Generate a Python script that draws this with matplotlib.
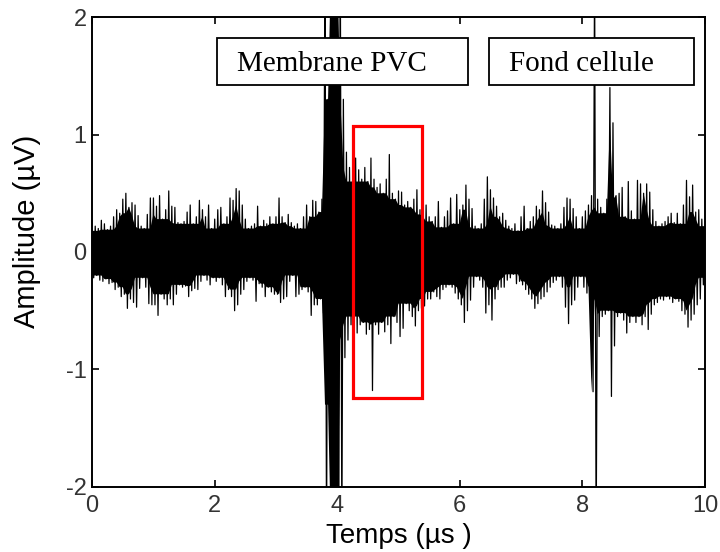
import matplotlib
matplotlib.use('Agg')
import matplotlib.pyplot as plt
from matplotlib.patches import Rectangle
import numpy as np

# Pas entre deux crêtes lues sur le signal (µs)
pas = 0.05

# Crêtes positives, une valeur tous les 0.05 µs (de 0 à 10 µs)
crete_haut = [
    0.18, 0.22, 0.20, 0.27, 0.24, 0.19, 0.22, 0.30, 0.36, 0.33, 0.45, 0.50, 0.38, 0.42, 0.40, 0.31, 0.22, 0.20, 0.32, 0.46,
    0.46, 0.39, 0.48, 0.28, 0.36, 0.52, 0.39, 0.38, 0.25, 0.24, 0.26, 0.34, 0.40, 0.24, 0.30, 0.44, 0.36, 0.30, 0.40, 0.20,
    0.28, 0.36, 0.38, 0.24, 0.30, 0.46, 0.44, 0.54, 0.52, 0.40, 0.28, 0.20, 0.22, 0.24, 0.39, 0.22, 0.27, 0.24, 0.30, 0.24,
    0.30, 0.46, 0.30, 0.25, 0.32, 0.25, 0.22, 0.24, 0.20, 0.30, 0.40, 0.30, 0.44, 0.43, 0.34, 0.45, 2.50, 1.30, 2.50, 2.50,
    2.50, 2.50, 1.30, 0.85, 0.72, 0.60, 0.80, 0.70, 0.62, 0.72, 0.60, 0.80, 0.62, 0.55, 0.58, 0.50, 0.62, 0.83, 0.50, 0.45,
    0.52, 0.51, 0.40, 0.43, 0.38, 0.45, 0.53, 0.36, 0.32, 0.40, 0.30, 0.26, 0.30, 0.43, 0.21, 0.30, 0.35, 0.46, 0.24, 0.49,
    0.36, 0.40, 0.57, 0.45, 0.37, 0.22, 0.20, 0.24, 0.45, 0.64, 0.53, 0.46, 0.39, 0.30, 0.33, 0.27, 0.22, 0.20, 0.24, 0.18,
    0.30, 0.39, 0.20, 0.26, 0.30, 0.39, 0.36, 0.52, 0.42, 0.34, 0.23, 0.22, 0.20, 0.24, 0.38, 0.46, 0.45, 0.37, 0.30, 0.20,
    0.30, 0.35, 0.40, 0.48, 2.50, 0.45, 0.38, 0.33, 0.45, 1.40, 1.10, 0.48, 0.50, 0.55, 0.30, 0.60, 0.35, 0.28, 0.61, 0.58,
    0.50, 0.58, 0.51, 0.36, 0.26, 0.22, 0.24, 0.26, 0.30, 0.33, 0.25, 0.33, 0.24, 0.40, 0.61, 0.47, 0.57, 0.34, 0.36, 0.28,
    0.22,
]

# Crêtes négatives, décalées d'un demi-pas
crete_bas = [
    -0.22, -0.20, -0.24, -0.25, -0.23, -0.27, -0.26, -0.32, -0.30, -0.38, -0.36, -0.48, -0.40, -0.43, -0.47, -0.31, -0.22, -0.30, -0.44, -0.45,
    -0.45, -0.54, -0.36, -0.40, -0.45, -0.40, -0.45, -0.36, -0.28, -0.30, -0.29, -0.38, -0.33, -0.31, -0.32, -0.25, -0.20, -0.24, -0.28, -0.22,
    -0.25, -0.22, -0.28, -0.38, -0.32, -0.38, -0.50, -0.45, -0.36, -0.32, -0.25, -0.22, -0.24, -0.42, -0.27, -0.30, -0.38, -0.30, -0.34, -0.36,
    -0.36, -0.43, -0.40, -0.38, -0.25, -0.20, -0.38, -0.36, -0.32, -0.30, -0.34, -0.54, -0.45, -0.45, -0.40, -0.52, -2.50, -1.30, -2.50, -2.50,
    -2.50, -2.50, -0.90, -0.75, -0.62, -0.55, -0.69, -0.62, -0.60, -0.70, -0.66, -1.18, -0.62, -0.70, -0.60, -0.68, -0.62, -0.78, -0.55, -0.60,
    -0.72, -0.65, -0.44, -0.50, -0.55, -0.63, -0.50, -0.48, -0.46, -0.40, -0.40, -0.34, -0.38, -0.40, -0.32, -0.30, -0.28, -0.30, -0.35, -0.40,
    -0.45, -0.60, -0.50, -0.41, -0.30, -0.21, -0.24, -0.30, -0.52, -0.45, -0.58, -0.40, -0.32, -0.30, -0.30, -0.24, -0.22, -0.19, -0.27, -0.25,
    -0.28, -0.32, -0.36, -0.40, -0.48, -0.44, -0.40, -0.38, -0.34, -0.30, -0.26, -0.24, -0.21, -0.30, -0.47, -0.61, -0.45, -0.41, -0.30, -0.21,
    -0.30, -0.35, -0.40, -1.19, -2.50, -0.72, -0.55, -0.53, -0.50, -1.23, -0.80, -0.55, -0.52, -0.58, -0.69, -0.60, -0.55, -0.60, -0.55, -0.62,
    -0.55, -0.66, -0.53, -0.45, -0.43, -0.40, -0.41, -0.38, -0.40, -0.43, -0.40, -0.42, -0.50, -0.53, -0.64, -0.58, -0.53, -0.45, -0.40, -0.28,
    -0.22,
]

# Cadres d'annotation : (texte, t début, t fin, amplitude bas, amplitude haut)
cadres = [
    ("Membrane PVC", 2.04, 6.14, 1.42, 1.82),
    ("Fond cellule", 6.47, 9.82, 1.42, 1.82),
]

# Zone mise en évidence (rectangle rouge)
zone_t = [4.25, 5.38]
zone_amp = [-1.24, 1.07]

x_ticks = [0, 2, 4, 6, 8, 10]
y_ticks = [-2, -1, 0, 1, 2]


def construire_signal(haut, bas, dt):
    t0 = np.arange(len(haut)) * dt
    t = np.empty(2 * len(haut))
    a = np.empty(2 * len(haut))
    t[0::2] = t0
    t[1::2] = t0 + dt / 2
    a[0::2] = haut
    a[1::2] = bas
    return t0, t, a


def min_glissant(v, k=2):
    # minimum sur une fenêtre de 2k+1 crêtes voisines
    p = np.pad(v, k, mode='edge')
    return np.min([p[i:i + len(v)] for i in range(2 * k + 1)], axis=0)


def coeur(v):
    # partie pleine : fenêtre large, sauf dans les salves fortes (> 1)
    paire = np.minimum(v, np.r_[v[1:], v[-1]])
    return np.maximum(min_glissant(v), np.where(paire > 1, paire, 0))


def tracer():
    plt.rcParams['font.family'] = ['Liberation Sans', 'DejaVu Sans']
    plt.rcParams['axes.unicode_minus'] = False
    fig = plt.figure(figsize=(7.2, 5.52), dpi=100)
    ax = fig.add_axes([0.128, 0.118, 0.851, 0.851])

    t0, t, a = construire_signal(crete_haut, crete_bas, pas)
    haut = np.array(crete_haut)
    bas = np.array(crete_bas)
    ax.fill_between(t0, -coeur(-bas), coeur(haut), color='black', linewidth=0, zorder=2)
    ax.plot(t, a, color='black', linewidth=0.9, zorder=2)

    for texte, t1, t2, y1, y2 in cadres:
        ax.add_patch(Rectangle((t1, y1), t2 - t1, y2 - y1, facecolor='white',
                               edgecolor='black', linewidth=1.3, zorder=4))
        ax.text(t1 + 0.33, (y1 + y2) / 2 - 0.02, texte, fontsize=21, family='Liberation Serif',
                ha='left', va='center', zorder=5)

    ax.add_patch(Rectangle((zone_t[0], zone_amp[0]), zone_t[1] - zone_t[0],
                           zone_amp[1] - zone_amp[0], fill=False,
                           edgecolor='#ff0000', linewidth=2.3, zorder=6))

    ax.set_xlim(0, 10)
    ax.set_ylim(-2, 2)
    ax.set_xticks(x_ticks)
    ax.set_yticks(y_ticks)
    ax.tick_params(direction='in', length=5, width=1.2, top=True, right=True,
                   labelsize=17, labelcolor='#333333')
    ax.tick_params(axis='x', pad=6)
    ax.tick_params(axis='y', pad=4)
    for s in ax.spines.values():
        s.set_linewidth(1.4)
    ax.set_xlabel('Temps (µs )', fontsize=20, labelpad=4)
    ax.set_ylabel('Amplitude (µV)', fontsize=21)
    ax.yaxis.set_label_coords(-0.084, 0.543)

    fig.savefig('out.png', dpi=100)


if __name__ == "__main__":
    tracer()
